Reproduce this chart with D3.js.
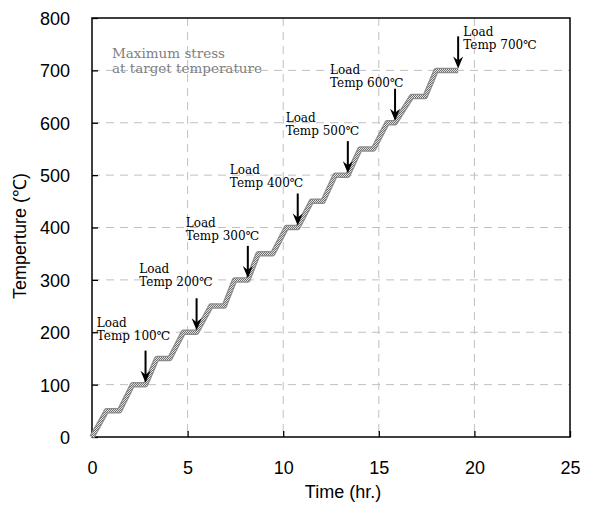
<!DOCTYPE html>
<html><head><meta charset="utf-8">
<script src="https://cdn.jsdelivr.net/npm/d3@7"></script>
<style>body{margin:0;background:#fff}svg{display:block}</style>
</head><body>
<script>
// Data
const timeHr = [0, 0.76, 1.44, 2.12, 2.80, 3.39, 4.07, 4.78, 5.47, 6.22, 6.92, 7.46, 8.15, 8.69, 9.45, 10.17, 10.76, 11.48, 12.08, 12.72, 13.38, 14.02, 14.72, 15.44, 15.85, 16.72, 17.42, 18.0, 19.15];
const tempC  = [0, 50, 50, 100, 100, 150, 150, 200, 200, 250, 250, 300, 300, 350, 350, 400, 400, 450, 450, 500, 500, 550, 550, 600, 600, 650, 650, 700, 700];
const loadTemps = [100, 200, 300, 400, 500, 600, 700];
const loadTimes = [2.80, 5.47, 8.15, 10.76, 13.38, 15.85, 19.15];
const labelTimes = [0.25, 2.47, 4.9, 7.21, 10.13, 12.45, 19.42];
const labelTemps = [185, 288, 377, 477, 577, 669, 741];
const xTicks = [0, 5, 10, 15, 20, 25];
const yTicks = [0, 100, 200, 300, 400, 500, 600, 700, 800];

const W = 600, H = 513;
const svg = d3.select("body").append("svg").attr("width", W).attr("height", H);
const x = d3.scaleLinear().domain([0, 25]).range([92, 570]);
const y = d3.scaleLinear().domain([0, 800]).range([437, 18]);

const defs = svg.append("defs");
const pat = defs.append("pattern").attr("id", "chk").attr("patternUnits", "userSpaceOnUse")
  .attr("width", 2).attr("height", 2);
pat.append("rect").attr("width", 2).attr("height", 2).attr("fill", "#e2e2e2");
pat.append("rect").attr("width", 1).attr("height", 1).attr("fill", "#6e6e6e");
pat.append("rect").attr("x", 1).attr("y", 1).attr("width", 1).attr("height", 1).attr("fill", "#6e6e6e");

// grid
const grid = svg.append("g");
grid.selectAll(".gx").data(xTicks.filter(d => d > 0 && d < 25)).join("line")
  .attr("x1", d => x(d)).attr("x2", d => x(d)).attr("y1", y(800)).attr("y2", y(0))
  .attr("stroke", "#c0c0c0").attr("stroke-width", 1).attr("stroke-dasharray", "8,6");
grid.selectAll(".gy").data(yTicks.filter(d => d > 0 && d < 800)).join("line")
  .attr("y1", d => y(d)).attr("y2", d => y(d)).attr("x1", x(0)).attr("x2", x(25))
  .attr("stroke", "#c0c0c0").attr("stroke-width", 1).attr("stroke-dasharray", "8,6");

// axes
const ax = svg.append("g").attr("transform", `translate(0,${y(0)})`)
  .call(d3.axisBottom(x).tickValues(xTicks).tickSizeInner(-6).tickSizeOuter(0).tickPadding(24));
const ay = svg.append("g").attr("transform", `translate(${x(0)},0)`)
  .call(d3.axisLeft(y).tickValues(yTicks).tickSizeInner(-6).tickSizeOuter(0).tickPadding(22));
[ax, ay].forEach(g => {
  g.select(".domain").remove();
  g.selectAll("line").attr("stroke", "#000").attr("stroke-width", 1.3);
  g.selectAll("text").attr("font-family", "Liberation Sans, Arial, sans-serif").attr("font-size", 18).attr("fill", "#000");
});
ay.selectAll("text").attr("dy", "0.36em");

// frame
svg.append("rect").attr("x", x(0)).attr("y", y(800)).attr("width", x(25) - x(0)).attr("height", y(0) - y(800))
  .attr("fill", "none").attr("stroke", "#000").attr("stroke-width", 1.5);

// line
const line = d3.line().x((d, i) => x(timeHr[i])).y(d => y(d));
svg.append("path").datum(tempC).attr("d", line).attr("fill", "none")
  .attr("stroke", "#8c8c8c").attr("stroke-width", 5.5).attr("stroke-linejoin", "round");
svg.append("path").datum(tempC).attr("d", line).attr("fill", "none")
  .attr("stroke", "url(#chk)").attr("stroke-width", 3).attr("stroke-linejoin", "round");

// arrows
loadTemps.forEach((t, i) => {
  const ax0 = x(loadTimes[i]), tip = y(t) - 2, top = tip - 32;
  svg.append("line").attr("x1", ax0).attr("x2", ax0).attr("y1", top).attr("y2", tip - 5)
    .attr("stroke", "#000").attr("stroke-width", 2);
  svg.append("path").attr("d", `M${ax0},${tip} L${ax0 - 5},${tip - 12} L${ax0},${tip - 8} L${ax0 + 5},${tip - 12} Z`)
    .attr("fill", "#000");
  const lx = x(labelTimes[i]), ly = y(labelTemps[i]);
  const tx = svg.append("text").attr("font-family", "DejaVu Serif, serif").attr("font-size", 12).attr("fill", "#000");
  tx.append("tspan").attr("x", lx).attr("y", ly - 13).text("Load");
  tx.append("tspan").attr("x", lx).attr("y", ly).text(`Temp ${t}℃`);
});

// max stress note
const note = svg.append("text").attr("font-family", "DejaVu Serif, serif").attr("font-size", 13.5).attr("fill", "#808080");
note.append("tspan").attr("x", 112).attr("y", 58).text("Maximum stress");
note.append("tspan").attr("x", 112).attr("y", 73).text("at target temperature");

// titles
svg.append("text").attr("x", 343).attr("y", 498).attr("text-anchor", "middle")
  .attr("font-family", "Liberation Sans, Arial, sans-serif").attr("font-size", 18).text("Time (hr.)");
svg.append("text").attr("transform", "translate(26,236) rotate(-90)").attr("text-anchor", "middle")
  .attr("font-family", "Liberation Sans, Arial, sans-serif").attr("font-size", 18).text("Temperture (℃)");
</script>
</body></html>
